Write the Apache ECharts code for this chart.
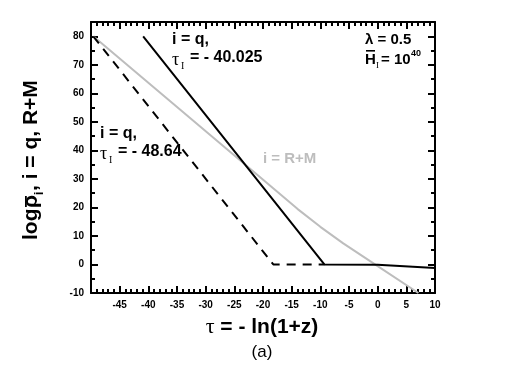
<!DOCTYPE html>
<html><head><meta charset="utf-8">
<script src="https://cdn.jsdelivr.net/npm/echarts@6/dist/echarts.min.js"></script>
<style>html,body{margin:0;padding:0;background:#fff}#c{width:505px;height:378px}</style>
</head><body><div id="c"></div>
<script>
// tau values (x) and log rho values (y)
const qSolidTau = [-40.9, -9.3, 0, 10];
const qSolidRho = [80, 0, -0.1, -1.2];
const qDashTau = [-49.6, -18.2, -9.3];
const qDashRho = [80, 0, 0];
const rmTau = [-49.6, -24, -14, -10, -6, 0, 7.1];
const rmRho = [80, 36.5, 19.5, 13.2, 7.4, -0.6, -10];
const xTickLabels = [-45, -40, -35, -30, -25, -20, -15, -10, -5, 0, 5, 10];
const yTickLabels = [-10, 0, 10, 20, 30, 40, 50, 60, 70, 80];

const zip = (a, b) => a.map((v, i) => [v, b[i]]);
const SANS = 'Liberation Sans, Arial, sans-serif';
const SERIF = 'Liberation Serif, Times New Roman, serif';

function mkAxis(range, interval, position, tickLen, showLine, label) {
  return {
    type: 'value', min: range[0], max: range[1], interval: interval, position: position,
    axisLine: {show: showLine, onZero: false, lineStyle: {color: '#000', width: 2}},
    axisTick: {show: true, inside: true, length: tickLen, lineStyle: {color: '#000', width: 2, opacity: 1}},
    minorTick: {show: false},
    splitLine: {show: false},
    axisLabel: label || {show: false}
  };
}
const lbl = (arr) => ({show: true, color: '#000', fontFamily: SANS, fontWeight: 'bold', fontSize: 10, margin: 7,
  formatter: v => arr.indexOf(v) >= 0 ? String(v) : ''});
const XR = [-50, 10], YR = [-10, 85];

const chart = echarts.init(document.getElementById('c'), null, {renderer: 'canvas'});
const txt = (x, y, text, font, fill) => ({type: 'text', x: x, y: y,
  style: {text: text, font: font, fill: fill || '#000', verticalAlign: 'top'}});
const bar = (x1, x2, y, w) => ({type: 'rect', shape: {x: x1, y: y, width: x2 - x1, height: w},
  style: {fill: '#000'}});
chart.setOption({
  animation: false,
  grid: {left: 91, right: 70, top: 22, bottom: 85, containLabel: false},
  xAxis: [
    mkAxis(XR, 5, 'bottom', 7, true, lbl(xTickLabels)),
    mkAxis(XR, 5, 'top', 7, true),
    mkAxis(XR, 1, 'bottom', 4, false),
    mkAxis(XR, 1, 'top', 4, false)
  ],
  yAxis: [
    mkAxis(YR, 10, 'left', 7, true, lbl(yTickLabels)),
    mkAxis(YR, 10, 'right', 7, true),
    mkAxis(YR, 5, 'left', 4, false),
    mkAxis(YR, 5, 'right', 4, false)
  ],
  series: [
    {type: 'line', data: zip(rmTau, rmRho), showSymbol: false, clip: true,
      lineStyle: {color: '#bdbdbd', width: 2}, z: 2},
    {type: 'line', data: zip(qDashTau, qDashRho), showSymbol: false, clip: true,
      lineStyle: {color: '#000', width: 2, type: [9, 7]}, z: 3},
    {type: 'line', data: zip(qSolidTau, qSolidRho), showSymbol: false, clip: true,
      lineStyle: {color: '#000', width: 2}, z: 4}
  ],
  graphic: [
    txt(172, 32, 'i = q,', 'bold 16px ' + SANS),
    txt(172, 51, 'τ', '18px ' + SERIF),
    txt(181, 61, 'I', '10px ' + SERIF),
    txt(190, 50, '= - 40.025', 'bold 16px ' + SANS),
    txt(100, 126, 'i = q,', 'bold 16px ' + SANS),
    txt(100, 145, 'τ', '18px ' + SERIF),
    txt(109, 155, 'I', '10px ' + SERIF),
    txt(118, 144, '= - 48.64', 'bold 16px ' + SANS),
    txt(365, 32, 'λ = 0.5', 'bold 15px ' + SANS),
    txt(365, 52, 'H', 'bold 15px ' + SANS),
    bar(366, 375, 50, 1.6),
    txt(376, 61, 'I', '9px ' + SERIF),
    txt(381, 52, '= 10', 'bold 15px ' + SANS),
    txt(411, 49, '40', 'bold 9px ' + SANS),
    txt(263, 151, 'i = R+M', 'bold 15px ' + SANS, '#bdbdbd'),
    {type: 'group', x: 21, y: 240, rotation: Math.PI / 2, children: [
      {type: 'text', x: 0, y: 0, style: {text: 'log', font: 'bold 21px ' + SANS, fill: '#000', verticalAlign: 'top'}},
      {type: 'text', x: 32, y: 0, style: {text: 'ρ', font: 'bold 21px ' + SANS, fill: '#000', verticalAlign: 'top'}},
      {type: 'rect', shape: {x: 33, y: 4, width: 11, height: 1.8}, style: {fill: '#000'}},
      {type: 'text', x: 45, y: 13, style: {text: 'i', font: 'bold 12px ' + SANS, fill: '#000', verticalAlign: 'top'}},
      {type: 'text', x: 49, y: 0, style: {text: ', i = q, R+M', font: 'bold 21px ' + SANS, fill: '#000', verticalAlign: 'top'}}
    ]},
    {type: 'text', x: 262, y: 327, style: {
      text: '{t|τ}{b| = - ln(1+z)}', align: 'center', verticalAlign: 'middle', rich: {
        t: {font: '22px ' + SERIF, fill: '#000'},
        b: {font: 'bold 21px ' + SANS, fill: '#000'}}}},
    {type: 'text', x: 262, y: 352, style: {text: '(a)', font: '17px ' + SANS, fill: '#000', align: 'center', verticalAlign: 'middle'}}
  ]
});
</script></body></html>
